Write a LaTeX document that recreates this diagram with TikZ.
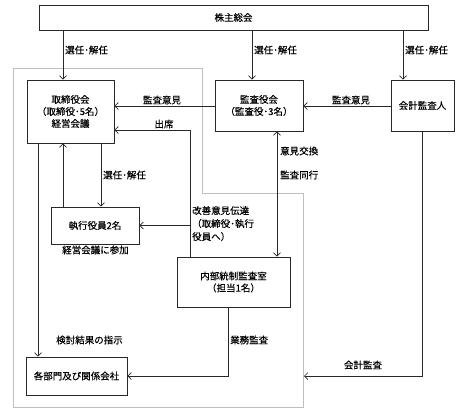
\documentclass[tikz,border=0pt]{standalone}
\usepackage{fontspec}
\setmainfont{Noto Sans CJK JP}[FakeBold=0.35]
\usetikzlibrary{arrows.meta}
\definecolor{ln}{RGB}{40,40,40}
\definecolor{gr}{RGB}{190,190,190}
\tikzset{
  box/.style={draw=ln,line width=0.7pt,fill=white,inner sep=1pt,align=center,font=\fontsize{9.5}{12}\selectfont},
  lab/.style={inner sep=0pt,font=\fontsize{9.5}{12}\selectfont},
  arr/.style={draw=ln,line width=0.7pt,-{Straight Barb[length=3.5pt,width=7pt]}},
  darr/.style={draw=ln,line width=0.7pt,{Straight Barb[length=3.5pt,width=7pt]}-{Straight Barb[length=3.5pt,width=7pt]}},
  plain/.style={draw=ln,line width=0.7pt}
}
\begin{document}
\begin{tikzpicture}[x=1pt,y=-1pt]
\useasboundingbox (0,0) rectangle (469,416);
% gray region
\draw[gr,line width=0.8pt] (13,68) -- (202,68) -- (202,193) -- (303,193) -- (303,407) -- (13,407) -- cycle;
% boxes
\node[box,minimum width=389pt,minimum height=25pt] (top) at (233.5,17.5) {株主総会};
\node[box,minimum width=87pt,minimum height=63pt] (tori) at (70.5,111.5) {取締役会\\（取締役･5名）\\経営会議};
\node[box,minimum width=88pt,minimum height=51pt] (kansa) at (259,105.5) {監査役会\\（監査役･3名）};
\node[box,minimum width=63pt,minimum height=51pt] (kaikei) at (422.5,105.5) {会計監査人};
\node[box,minimum width=88pt,minimum height=37pt] (shikko) at (95,225.5) {執行役員2名};
\node[box,minimum width=113pt,minimum height=50pt] (naibu) at (233.5,282) {内部統制監査室\\（担当1名）};
\node[box,minimum width=101pt,minimum height=38pt] (kaku) at (76.5,376) {各部門及び関係会社};
% helper coordinates
\coordinate (xa) at (63,0);
\coordinate (xb) at (252,0);
\coordinate (xc) at (403,0);
\coordinate (xd) at (101,0);
\coordinate (xe) at (190,0);
\coordinate (xf) at (277,0);
\coordinate (xg) at (228,0);
\coordinate (xh) at (422,0);
\coordinate (xi) at (38,0);
\coordinate (y2) at (0,130);
\coordinate (y4) at (0,376);
\coordinate (kend) at (304,376);
% connectors
\draw[arr] (top.south -| xa) -- (tori.north -| xa);
\draw[arr] (top.south -| xb) -- (kansa.north -| xb);
\draw[arr] (top.south -| xc) -- (kaikei.north -| xc);
\draw[arr] (kansa.west |- 0,106) -- (tori.east |- 0,106);
\draw[arr] (kaikei.west |- 0,106) -- (kansa.east |- 0,106);
\draw[arr] (naibu.north -| xe) |- (tori.east |- y2);
\draw[arr] (xe |- shikko.east) -- (shikko.east);
\draw[arr] (shikko.north -| xa) -- (tori.south -| xa);
\draw[arr] (tori.south -| xd) -- (shikko.north -| xd);
\draw[arr] (tori.south -| xi) -- (kaku.north -| xi);
\draw[darr] (kansa.south -| xf) -- (naibu.north -| xf);
\draw[arr] (naibu.south -| xg) |- (kaku.east);
\draw[arr] (kaikei.south -| xh) |- (kend);
% labels
\node[lab,anchor=west] (l1) at (65,50) {選任･解任};
\node[lab,anchor=west] (l2) at (254,50) {選任･解任};
\node[lab,anchor=west] (l3) at (405,50) {選任･解任};
\node[lab] (l4) at (162,100) {監査意見};
\node[lab] (l5) at (351,100) {監査意見};
\node[lab] (l6) at (164,124) {出席};
\node[lab,anchor=north west,align=left,font=\fontsize{9.5}{13}\selectfont] (l7) at (192,206) {改善意見伝達\\（取締役･執行\\役員へ）};
\node[lab] (l8) at (95.5,250) {経営会議に参加};
\node[lab,anchor=west] (l9) at (103,175) {選任･解任};
\node[lab,anchor=west] (l10) at (280,151) {意見交換};
\node[lab,anchor=west] (l11) at (280,175) {監査同行};
\node[lab] (l12) at (89.5,340) {検討結果の指示};
\node[lab,anchor=west] (l13) at (230,340) {業務監査};
\node[lab] (l14) at (363,365) {会計監査};
\end{tikzpicture}
\end{document}
